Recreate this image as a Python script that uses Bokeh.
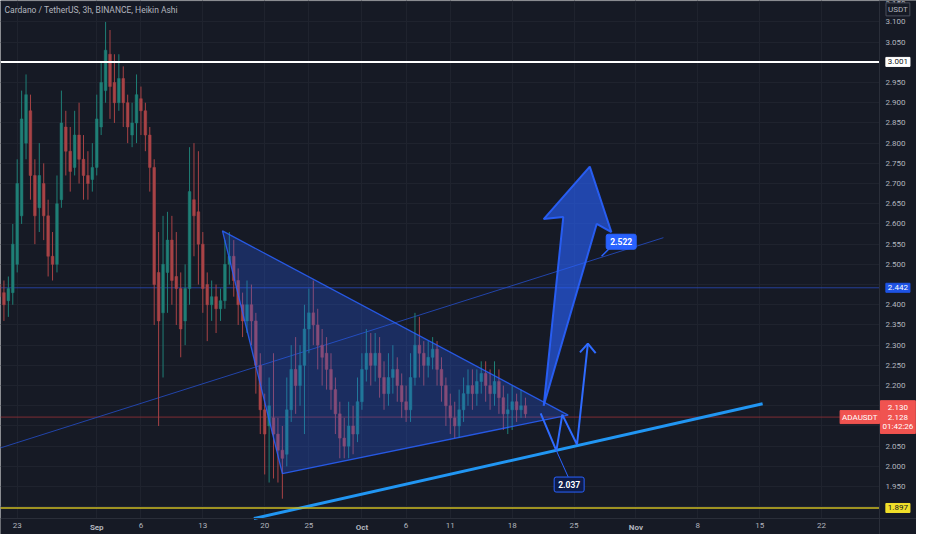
import pandas as pd
from bokeh.plotting import figure
from bokeh.models import (Range1d, FixedTicker, CustomJSTickFormatter, Label, ColumnDataSource,
                          BoxAnnotation, DatetimeAxis)
from bokeh.embed import file_html
from bokeh.resources import INLINE

# ---------------- data ----------------
title_text = "Cardano / TetherUS, 3h, BINANCE, Heikin Ashi"
candle_start = "2021-08-21 00:00"   # 12h Heikin Ashi candles
opens = [2.45, 2.43, 2.41, 2.43, 2.50, 2.62, 2.80, 2.88, 2.72, 2.64,
         2.70, 2.62, 2.52, 2.50, 2.66, 2.84, 2.78, 2.74, 2.82, 2.76,
         2.72, 2.71, 2.74, 2.84, 2.93, 3.02, 2.95, 2.90, 2.96, 2.90,
         2.82, 2.85, 2.91, 2.88, 2.82, 2.74, 2.48, 2.38, 2.48, 2.56,
         2.47, 2.44, 2.36, 2.44, 2.66, 2.63, 2.55, 2.45, 2.40, 2.42,
         2.39, 2.41, 2.50, 2.52, 2.46, 2.40, 2.36, 2.40, 2.36, 2.25,
         2.14, 2.10, 2.12, 2.08, 2.04, 2.03, 2.14, 2.24, 2.20, 2.25,
         2.34, 2.38, 2.35, 2.30, 2.28, 2.24, 2.19, 2.13, 2.07, 2.05,
         2.10, 2.08, 2.16, 2.24, 2.28, 2.25, 2.28, 2.22, 2.18, 2.22,
         2.24, 2.20, 2.16, 2.14, 2.22, 2.30, 2.28, 2.25, 2.27, 2.29,
         2.24, 2.20, 2.15, 2.12, 2.10, 2.14, 2.18, 2.20, 2.18, 2.21,
         2.23, 2.20, 2.18, 2.21, 2.17, 2.13, 2.14, 2.16, 2.14, 2.15]
closes = [2.42, 2.40, 2.44, 2.55, 2.70, 2.86, 2.92, 2.72, 2.62, 2.72,
          2.62, 2.52, 2.50, 2.65, 2.85, 2.78, 2.73, 2.82, 2.76, 2.72,
          2.70, 2.74, 2.86, 2.95, 3.03, 2.94, 2.90, 2.96, 2.90, 2.84,
          2.85, 2.92, 2.88, 2.82, 2.74, 2.45, 2.36, 2.50, 2.56, 2.46,
          2.44, 2.34, 2.44, 2.68, 2.62, 2.55, 2.44, 2.40, 2.42, 2.39,
          2.41, 2.50, 2.52, 2.46, 2.40, 2.36, 2.40, 2.36, 2.25, 2.14,
          2.08, 2.15, 2.08, 2.04, 2.02, 2.14, 2.24, 2.20, 2.25, 2.34,
          2.38, 2.35, 2.30, 2.27, 2.24, 2.19, 2.13, 2.07, 2.05, 2.10,
          2.08, 2.16, 2.24, 2.28, 2.25, 2.28, 2.22, 2.18, 2.22, 2.24,
          2.20, 2.16, 2.14, 2.22, 2.30, 2.28, 2.25, 2.27, 2.29, 2.24,
          2.20, 2.15, 2.12, 2.10, 2.14, 2.18, 2.20, 2.18, 2.21, 2.23,
          2.20, 2.18, 2.21, 2.17, 2.13, 2.14, 2.16, 2.14, 2.15, 2.13]
highs = [2.50, 2.46, 2.47, 2.60, 2.76, 2.93, 2.97, 2.92, 2.76, 2.80,
         2.75, 2.66, 2.58, 2.72, 2.93, 2.88, 2.84, 2.88, 2.90, 2.82,
         2.78, 2.80, 2.92, 3.00, 3.10, 3.08, 3.02, 3.02, 2.99, 2.92,
         2.90, 2.97, 2.94, 2.90, 2.84, 2.76, 2.58, 2.62, 2.63, 2.62,
         2.58, 2.48, 2.50, 2.79, 2.80, 2.78, 2.58, 2.48, 2.46, 2.45,
         2.44, 2.56, 2.58, 2.56, 2.49, 2.43, 2.46, 2.45, 2.38, 2.28,
         2.18, 2.22, 2.28, 2.12, 2.10, 2.22, 2.30, 2.32, 2.30, 2.40,
         2.44, 2.46, 2.39, 2.34, 2.32, 2.28, 2.22, 2.16, 2.12, 2.16,
         2.15, 2.22, 2.28, 2.34, 2.33, 2.33, 2.32, 2.26, 2.28, 2.30,
         2.27, 2.23, 2.20, 2.28, 2.38, 2.37, 2.31, 2.31, 2.32, 2.31,
         2.27, 2.22, 2.18, 2.16, 2.19, 2.22, 2.24, 2.24, 2.24, 2.26,
         2.26, 2.24, 2.26, 2.24, 2.20, 2.18, 2.20, 2.18, 2.19, 2.17]
lows = [2.39, 2.36, 2.37, 2.40, 2.48, 2.60, 2.76, 2.66, 2.55, 2.58,
        2.56, 2.47, 2.46, 2.48, 2.64, 2.72, 2.68, 2.72, 2.70, 2.66,
        2.66, 2.68, 2.72, 2.82, 2.90, 2.86, 2.85, 2.88, 2.84, 2.80,
        2.79, 2.80, 2.82, 2.78, 2.68, 2.35, 2.10, 2.22, 2.38, 2.40,
        2.35, 2.27, 2.30, 2.40, 2.52, 2.45, 2.38, 2.31, 2.36, 2.33,
        2.36, 2.39, 2.45, 2.42, 2.35, 2.32, 2.33, 2.30, 2.18, 2.08,
        1.98, 1.96, 1.97, 1.96, 1.92, 2.00, 2.11, 2.13, 2.15, 2.08,
        2.28, 2.30, 2.24, 2.20, 2.19, 2.14, 2.08, 2.02, 2.02, 2.02,
        2.03, 2.06, 2.14, 2.21, 2.20, 2.21, 2.17, 2.14, 2.15, 2.18,
        2.16, 2.12, 2.11, 2.11, 2.20, 2.22, 2.20, 2.22, 2.24, 2.20,
        2.16, 2.10, 2.08, 2.07, 2.07, 2.11, 2.15, 2.14, 2.15, 2.18,
        2.16, 2.14, 2.15, 2.13, 2.09, 2.08, 2.09, 2.11, 2.12, 2.12]

date_ticks = ["2021-08-23", "2021-09-01", "2021-09-06", "2021-09-13", "2021-09-20",
              "2021-09-25", "2021-10-01", "2021-10-06", "2021-10-11", "2021-10-18",
              "2021-10-25", "2021-11-01", "2021-11-08", "2021-11-15", "2021-11-22"]
price_ticks = [1.90, 1.95, 2.00, 2.05, 2.10, 2.15, 2.20, 2.25, 2.30, 2.35, 2.40, 2.45, 2.50,
               2.55, 2.60, 2.65, 2.70, 2.75, 2.80, 2.85, 2.90, 2.95, 3.00, 3.05, 3.10, 3.15]
hidden_ticks = [1.90, 2.10, 2.15, 2.45, 3.00]   # covered by price tags

level_white = 3.001
level_yellow = 1.897
level_blue = 2.442
last_price = 2.122
last_tag = "2.130\n2.128\n01:42:26"

tri_dates = ["2021-09-15 05:20", "2021-09-22 00:00", "2021-10-24 08:00"]
tri_prices = [2.583, 1.982, 2.127]
trend_dates = ["2021-08-20 00:00", "2021-11-04 02:40"]
trend_prices = [2.038, 2.566]
support_dates = ["2021-09-18 18:40", "2021-11-15 08:00"]
support_prices = [1.871, 2.155]
arrow_dates = ["2021-10-21 13:30", "2021-10-23 18:40", "2021-10-21 13:30",
               "2021-10-26 18:40", "2021-10-29 05:20", "2021-10-27 13:30"]
arrow_prices = [2.150, 2.617, 2.612, 2.742, 2.580, 2.600]
zz_dates = ["2021-10-21 05:20", "2021-10-23 00:00", "2021-10-23 16:00",
            "2021-10-25 08:00", "2021-10-26 13:30"]
zz_prices = [2.131, 2.039, 2.128, 2.054, 2.304]
head_dates = ["2021-10-25 16:00", "2021-10-26 13:30", "2021-10-27 10:40"]
head_prices = [2.282, 2.304, 2.280]
call1_line_dates = ["2021-10-23 00:00", "2021-10-24 08:00"]
call1_line_prices = [2.039, 1.974]
call1_box = ("2021-10-24 10:40", 1.955, "2.037")
call2_line_dates = ["2021-10-28 02:40", "2021-10-29 05:20"]
call2_line_prices = [2.520, 2.544]
call2_box = ("2021-10-30 08:00", 2.556, "2.522")

# ---------------- styling ----------------
BG = "#161a25"
GRID = "#1f232e"
TXT = "#b2b5be"
UP = "#1f7f76"
DOWN = "#a84346"
BLUE = "#2962ff"
FONT = "Roboto"

W, H = 916, 534
AXIS_W, AXIS_H = 37, 16
x_start = pd.Timestamp("2021-08-21 02:40")
x_end = pd.Timestamp("2021-11-28 13:20")          # right edge of the chart pane
x_full = x_start + (x_end - x_start) * W / (W - AXIS_W)   # includes the price-scale strip
y_lo, y_hi = 1.871, 3.153                          # bottom / top of the chart pane
y_full = y_lo - (y_hi - y_lo) * AXIS_H / (H - AXIS_H)      # includes the time-scale strip
x_end_ms = x_end.value / 1e6

p = figure(width=W, height=H, x_axis_type="datetime", y_axis_location="right",
           x_range=Range1d(x_start, x_full), y_range=Range1d(y_full, y_hi),
           output_backend="svg", toolbar_location=None,
           background_fill_color=BG, border_fill_color=BG,
           min_border_left=0, min_border_top=0, min_border_right=0, min_border_bottom=0)
p.outline_line_color = None

# x axis: day numbers (regular) + month names (bold) on a second, overlaid axis
p.xaxis.ticker = FixedTicker(ticks=[pd.Timestamp(d).value / 1e6 for d in date_ticks])
p.xaxis.formatter = CustomJSTickFormatter(code="""
const d = new Date(tick);
return d.getUTCDate() === 1 ? "" : String(d.getUTCDate());
""")
p.xaxis.fixed_location = y_lo
month_ticks = [pd.Timestamp(d).value / 1e6 for d in date_ticks if pd.Timestamp(d).day == 1]
month_axis = DatetimeAxis(ticker=FixedTicker(ticks=month_ticks), fixed_location=y_lo,
                          formatter=CustomJSTickFormatter(code="""
const m = ["Jan","Feb","Mar","Apr","May","Jun","Jul","Aug","Sep","Oct","Nov","Dec"];
return m[new Date(tick).getUTCMonth()];
"""))
p.add_layout(month_axis, "below")

p.yaxis.ticker = FixedTicker(ticks=price_ticks)
p.yaxis.formatter = CustomJSTickFormatter(args=dict(hidden=hidden_ticks), code="""
for (const h of hidden) { if (Math.abs(tick - h) < 1e-6) return ""; }
return tick.toFixed(3);
""")
p.yaxis.fixed_location = x_end_ms

for ax in list(p.xaxis) + list(p.yaxis) + [month_axis]:
    ax.axis_line_color = "#2a2e39"
    ax.major_tick_line_color = None
    ax.minor_tick_line_color = None
    ax.major_tick_out = 0
    ax.major_tick_in = 0
    ax.minor_tick_out = 0
    ax.minor_tick_in = 0
    ax.major_label_text_color = TXT
    ax.major_label_text_font = FONT
    ax.major_label_text_font_size = "8px"
    ax.major_label_standoff = 4
month_axis.axis_line_color = None
month_axis.major_label_text_font_style = "bold"
p.yaxis.major_label_standoff = 6
p.xgrid.grid_line_color = GRID
p.ygrid.grid_line_color = GRID

# price-scale and time-scale strip backgrounds (hide grid lines there)
p.add_layout(BoxAnnotation(left=x_end_ms, fill_color=BG, fill_alpha=1,
                           line_color=None, level="underlay"))
p.add_layout(BoxAnnotation(top=y_lo, fill_color=BG, fill_alpha=1,
                           line_color=None, level="underlay"))

def level_line(y, color, width, alpha=1.0):
    p.segment(x0=[x_start], x1=[x_end], y0=[y], y1=[y], line_color=color,
              line_width=width, line_alpha=alpha)

# horizontal levels drawn under candles
level_line(level_blue, "#2a4cc0", 1, 0.75)
level_line(last_price, "#8a2f36", 1, 0.9)

# long thin trend line
p.line(pd.to_datetime(trend_dates), trend_prices, line_color="#2449b8", line_width=1, line_alpha=0.9)

# candles
t = pd.date_range(candle_start, periods=len(opens), freq="12h")
src = ColumnDataSource(dict(
    t=t, o=opens, c=closes, h=highs, l=lows,
    top=[max(a, b) for a, b in zip(opens, closes)],
    bot=[min(a, b) for a, b in zip(opens, closes)],
    col=[UP if c >= o else DOWN for o, c in zip(opens, closes)],
))
p.segment(x0="t", y0="l", x1="t", y1="h", color="col", line_width=1, source=src)
p.vbar(x="t", width=12 * 3600 * 1000 * 0.6, top="top", bottom="bot",
       fill_color="col", line_color="col", line_width=0.5, source=src)

# triangle
p.patch(pd.to_datetime(tri_dates), tri_prices, fill_color=BLUE, fill_alpha=0.27,
        line_color=BLUE, line_alpha=0.85, line_width=1.3)

# support line
p.line(pd.to_datetime(support_dates), support_prices, line_color="#2196f3", line_width=3)

# big arrow
p.patch(pd.to_datetime(arrow_dates), arrow_prices, fill_color=BLUE, fill_alpha=0.62,
        line_color=BLUE, line_alpha=0.9, line_width=2)

# zigzag path with arrow head
p.line(pd.to_datetime(zz_dates), zz_prices, line_color="#2f6bff", line_width=2)
p.line(pd.to_datetime(head_dates), head_prices, line_color="#2f6bff", line_width=2)

# callouts
p.line(pd.to_datetime(call1_line_dates), call1_line_prices, line_color="#2962ff", line_width=1)
p.line(pd.to_datetime(call2_line_dates), call2_line_prices, line_color="#2962ff", line_width=1.5)
p.add_layout(Label(x=pd.Timestamp(call1_box[0]), y=call1_box[1], text=call1_box[2],
                   text_align="center", text_baseline="middle", text_color="white",
                   text_font=FONT, text_font_size="8.5px", text_font_style="bold",
                   background_fill_color="#0e1c4a", border_line_color="#2962ff",
                   border_line_width=1, padding=4, border_radius=2))
p.add_layout(Label(x=pd.Timestamp(call2_box[0]), y=call2_box[1], text=call2_box[2],
                   text_align="center", text_baseline="middle", text_color="white",
                   text_font=FONT, text_font_size="8.5px", text_font_style="bold",
                   background_fill_color="#2962ff", border_line_color="#2962ff",
                   padding=4, border_radius=2))

# white & yellow levels on top
level_line(level_white, "white", 2)
level_line(level_yellow, "#cdbb22", 1.5)

# title
p.add_layout(Label(x=x_start + pd.Timedelta(hours=11), y=3.129, text=title_text,
                   text_align="left", text_baseline="middle", text_color=TXT,
                   text_font=FONT, text_font_size="8.5px"))

# price-axis tags
ax_x = x_end + pd.Timedelta(hours=50)
def tag(y, text, bg, fg, border=None):
    p.add_layout(Label(x=ax_x, y=y, text=text, text_align="center", text_baseline="middle",
                       text_color=fg, text_font=FONT, text_font_size="8px",
                       background_fill_color=bg, border_line_color=border or bg,
                       padding=2, level="overlay"))

tag(level_white, f"{level_white:.3f}", "white", "#131722")
tag(level_blue, f"{level_blue:.3f}", "#1e53e5", "white")
tag(level_yellow, f"{level_yellow:.3f}", "#f0df2a", "#131722")
tag(3.131, "USDT", BG, TXT, border="#4a4f5c")
p.add_layout(Label(x=ax_x, y=last_price, text=last_tag, text_align="center",
                   text_baseline="middle", text_color="white", text_font=FONT,
                   text_font_size="8px", text_line_height=1.1,
                   background_fill_color="#f05350", border_line_color="#f05350",
                   padding=2, level="overlay"))
p.add_layout(Label(x=x_end, y=last_price, text="ADAUSDT", text_align="right",
                   text_baseline="middle", text_color="white", text_font=FONT,
                   text_font_size="8px", background_fill_color="#f05350",
                   border_line_color="#f05350", padding=2, level="overlay"))

open("out.html", "w").write(file_html(p, INLINE))
